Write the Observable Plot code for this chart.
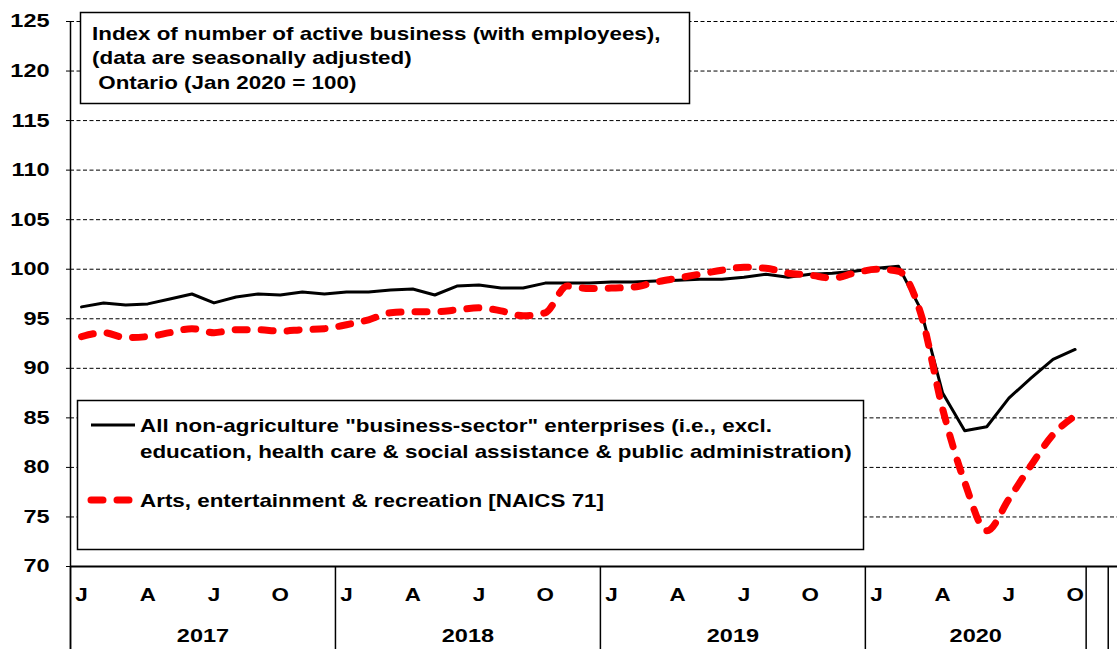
<!DOCTYPE html>
<html>
<head>
<meta charset="utf-8">
<script src="https://cdn.jsdelivr.net/npm/d3@7"></script>
<script src="https://cdn.jsdelivr.net/npm/@observablehq/plot@0.6"></script>
<style>
  html, body { margin: 0; padding: 0; background: #fff; }
  #chart { position: relative; width: 1117px; height: 649px; overflow: hidden; }
</style>
</head>
<body>
<div id="chart"></div>
<script>
// ---- Data ----
// Monthly, Jan 2017 .. Oct 2020
const allBusiness = [
  96.2, 96.6, 96.4, 96.5, 97.0, 97.5, 96.6, 97.2, 97.5, 97.4, 97.7, 97.5,
  97.7, 97.7, 97.9, 98.0, 97.4, 98.3, 98.4, 98.1, 98.1, 98.6, 98.6, 98.6,
  98.7, 98.7, 98.8, 98.9, 99.0, 99.0, 99.2, 99.5, 99.2, 99.5, 99.6, 99.8,
  100.1, 100.3, 96.0, 87.5, 83.7, 84.1, 87.0, 89.0, 90.9, 91.9
];
const artsEntertainment = [
  93.2, 93.6, 93.1, 93.2, 93.6, 94.0, 93.6, 93.9, 93.9, 93.75, 93.9, 94.0,
  94.4, 94.9, 95.6, 95.7, 95.7, 95.9, 96.1, 95.8, 95.3, 95.6, 98.3, 98.05,
  98.1, 98.2, 98.7, 99.1, 99.5, 99.9, 100.2, 100.1, 99.6, 99.4, 99.1, 99.6,
  100.0, 99.8, 95.6, 85.9, 78.5, 73.6, 76.8, 80.2, 83.3, 85.2
];
const years = ["2017", "2018", "2019", "2020"];
const yearStart = [0, 12, 24, 36];
const yearEnd = [12, 24, 36, 46];
const extraBoundaries = [47];
const monthTickLabels = ["J", "A", "J", "O"];
const monthTickOffsets = [0, 3, 6, 9];
const yTicks = [70, 75, 80, 85, 90, 95, 100, 105, 110, 115, 120, 125];
const gridTicks = [75, 80, 85, 90, 95, 100, 105, 110, 115, 120, 125];

const titleLines = [
  "Index of number of active business (with employees),",
  "(data are seasonally adjusted)",
  " Ontario (Jan 2020 = 100)"
];
const seriesNames = [
  ["All non-agriculture \"business-sector\" enterprises (i.e., excl.",
   "education, health care & social assistance & public administration)"],
  ["Arts, entertainment & recreation [NAICS 71]"]
];

// ---- Tables built from the arrays ----
const rows = allBusiness.map((v, i) => ({m: i + 0.5, all: v, arts: artsEntertainment[i]}));
const monthLabels = [];
years.forEach((y, k) => {
  monthTickOffsets.forEach((o, j) => {
    const m = yearStart[k] + o;
    if (m < yearEnd[k]) monthLabels.push({m: m + 0.5, label: monthTickLabels[j]});
  });
});
const yearLabels = years.map((y, k) => ({m: (yearStart[k] + yearEnd[k]) / 2, label: y}));
const boundaries = [...yearStart, yearEnd[yearEnd.length - 1], ...extraBoundaries];

const FONT = "'Liberation Sans', Arial, Helvetica, sans-serif";
const FS = 18.5;

const plot = Plot.plot({
  width: 1117,
  height: 649,
  marginLeft: 70,
  marginRight: 0,
  marginTop: 21,
  marginBottom: 83,
  x: {domain: [0, 47.42], axis: null},
  y: {domain: [70, 125], axis: null},
  style: {fontFamily: FONT, fontWeight: "bold", fontSize: FS + "px", color: "#000", background: "#fff", overflow: "visible"},
  marks: [
    Plot.ruleY(gridTicks, {stroke: "#000", strokeWidth: 1, strokeDasharray: "4,2.5"}),
    Plot.axisY(yTicks, {anchor: "left", tickSize: 4, tickPadding: 17, label: null, tickFormat: d => String(d), fontSize: FS}),
    Plot.ruleX([0], {y1: 125, y2: 61.4, stroke: "#000", strokeWidth: 1.5}),
    Plot.ruleY([70], {stroke: "#000", strokeWidth: 2}),
    Plot.ruleX(boundaries, {y1: 70, y2: 61.4, stroke: "#000", strokeWidth: 1.5}),
    Plot.text(monthLabels, {x: "m", y: 67.07, text: "label", textAnchor: "middle", fontSize: FS, fontWeight: "bold", fill: "#000"}),
    Plot.text(yearLabels, {x: "m", y: 62.94, text: "label", textAnchor: "middle", fontSize: FS, fontWeight: "bold", fill: "#000"}),
    Plot.line(rows, {x: "m", y: "all", stroke: "#000", strokeWidth: 3}),
    Plot.line(rows, {x: "m", y: "arts", stroke: "#ff0000", strokeWidth: 7, strokeDasharray: "12,14", strokeLinecap: "round", curve: "monotone-x"})
  ]
});

document.getElementById("chart").appendChild(plot);

// ---- Title box and legend box (annotations) ----
const svg = d3.select(plot);
const g = svg.append("g")
  .attr("font-family", FONT)
  .attr("font-weight", "bold")
  .attr("font-size", FS + "px")
  .attr("text-anchor", "start")
  .attr("fill", "#000");

g.append("rect").attr("x", 80.5).attr("y", 12.5).attr("width", 609).attr("height", 91)
  .attr("fill", "#fff").attr("stroke", "#000").attr("stroke-width", 1.5);
const titleBaselines = [39.5, 64, 88.5];
titleLines.forEach((t, i) => {
  g.append("text").attr("x", 92).attr("y", titleBaselines[i])
    .attr("text-anchor", "start")
    .attr("xml:space", "preserve").style("white-space", "pre").text(t);
});

g.append("rect").attr("x", 77.5).attr("y", 400.5).attr("width", 786).attr("height", 149)
  .attr("fill", "#fff").attr("stroke", "#000").attr("stroke-width", 1.5);
g.append("line").attr("x1", 91).attr("x2", 135).attr("y1", 425).attr("y2", 425)
  .attr("stroke", "#000").attr("stroke-width", 3);
g.append("line").attr("x1", 91).attr("x2", 132).attr("y1", 500).attr("y2", 500)
  .attr("stroke", "#ff0000").attr("stroke-width", 7).attr("stroke-dasharray", "12,14").attr("stroke-linecap", "round");
const legendBaselines = [[432, 458], [507]];
seriesNames.forEach((lines, k) => {
  lines.forEach((t, j) => {
    g.append("text").attr("x", 140).attr("y", legendBaselines[k][j])
      .attr("text-anchor", "start").text(t);
  });
});

// Reference text is horizontally stretched: widen glyphs to match
plot.querySelectorAll("text").forEach(t => {
  const len = t.getComputedTextLength();
  if (len > 0) {
    const isNum = /^[0-9]+$/.test(t.textContent.trim());
    const f = isNum ? 1.27 : 1.21;
    t.setAttribute("textLength", (len * f).toFixed(1));
    t.setAttribute("lengthAdjust", "spacingAndGlyphs");
  }
});
</script>
</body>
</html>
